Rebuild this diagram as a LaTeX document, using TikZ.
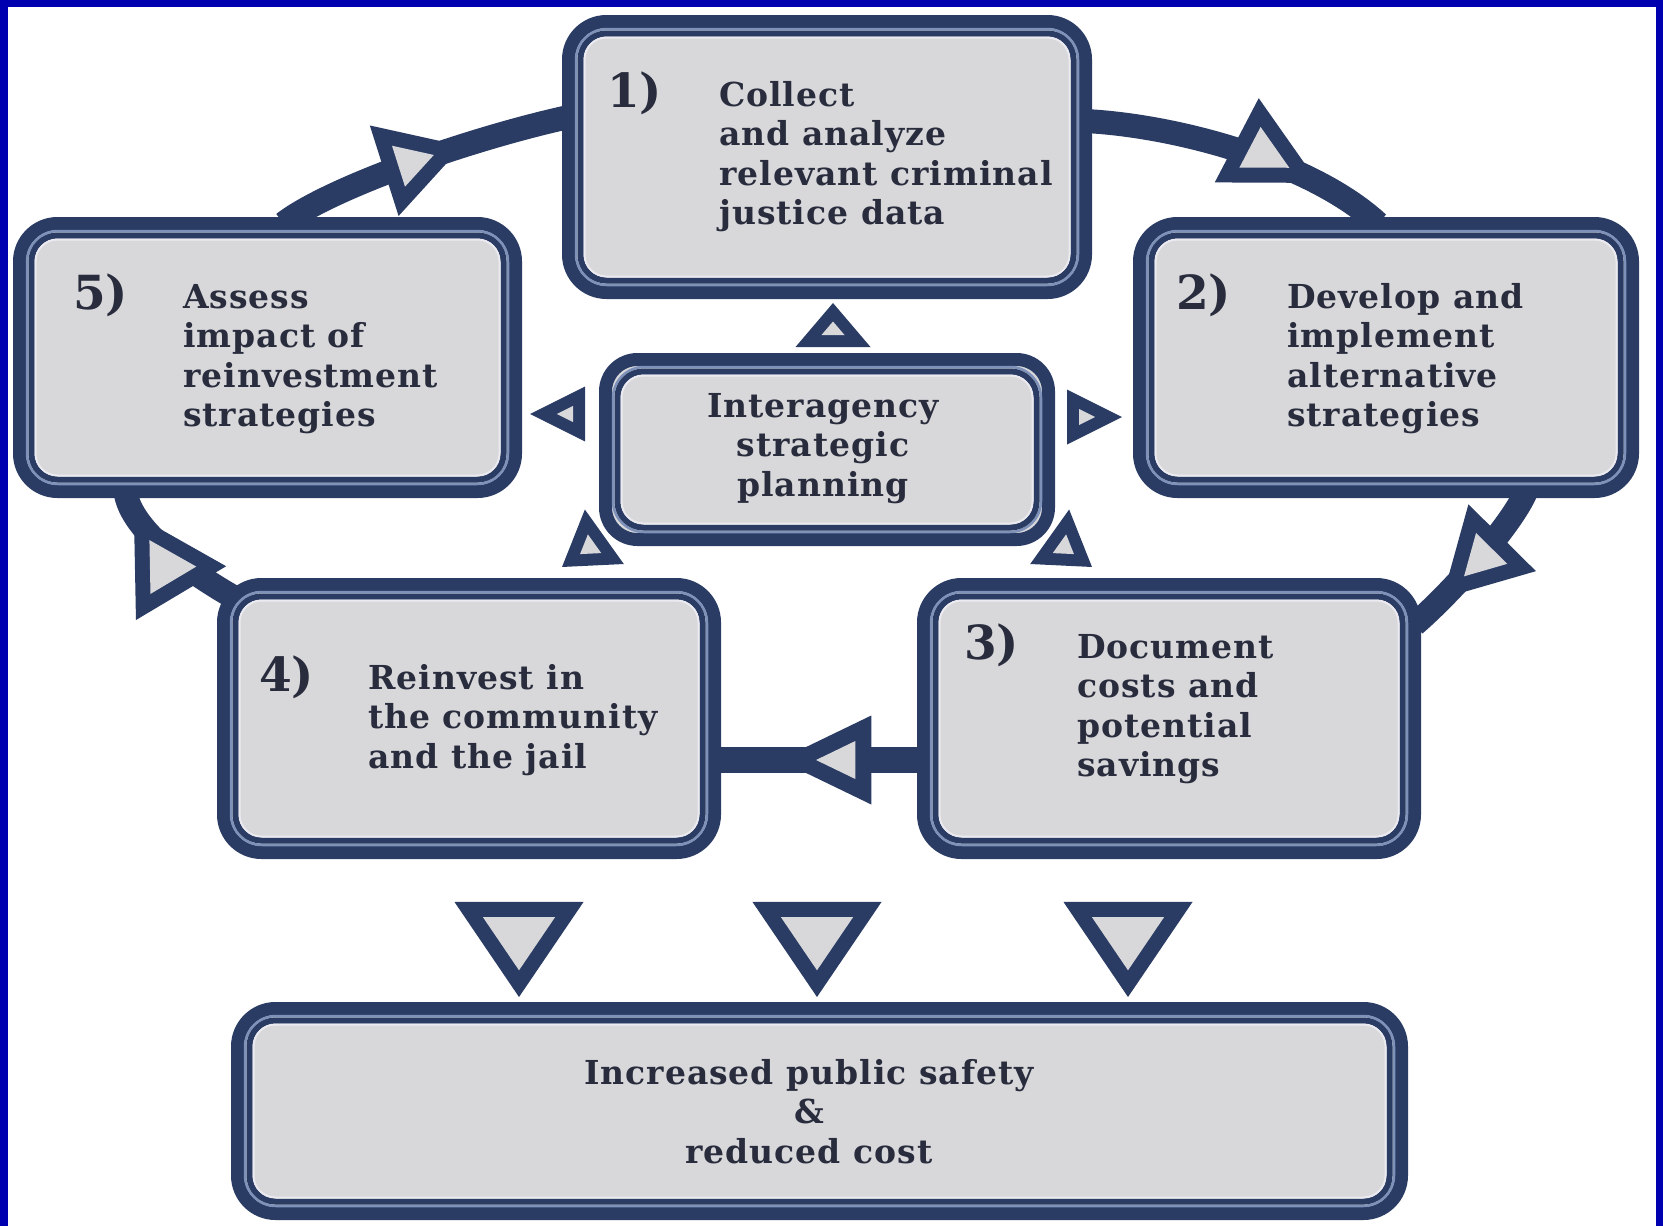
\documentclass[tikz,border=0pt]{standalone}
\usepackage{fontspec}
\setmainfont{DejaVu Serif}
\usetikzlibrary{decorations.markings,calc}
\definecolor{navy}{RGB}{42,60,100}
\definecolor{boxgray}{RGB}{216,216,219}
\definecolor{lightline}{RGB}{125,145,185}
\definecolor{innerline}{RGB}{234,234,240}
\definecolor{txt}{RGB}{40,44,60}
\definecolor{frameblue}{RGB}{0,0,176}
\pgfdeclarelayer{bg}
\pgfsetlayers{bg,main}
% arrow head: length, width, outline thickness
\newcommand\arrhead[3]{%
  \pgfmathsetmacro\ahw{#2/2}%
  \pgfmathsetmacro\ahs{sin(atan(\ahw/#1))}%
  \pgfmathsetmacro\ahti{-#3/\ahs}%
  \pgfmathsetmacro\ahbi{-#1+#3}%
  \pgfmathsetmacro\ahhi{(\ahti-\ahbi)*\ahw/#1}%
  \fill[navy] (0,0) -- (-#1,\ahw) -- (-#1,-\ahw) -- cycle;
  \fill[boxgray] (\ahti,0) -- (\ahbi,\ahhi) -- (\ahbi,-\ahhi) -- cycle;}
\newcommand\innerlines[1]{%
  \draw[lightline, line width=2.5pt, rounded corners=31pt] ($(#1.north west)+(7.5,7.5)$) rectangle ($(#1.south east)+(-7.5,-7.5)$);
  \draw[navy, line width=6pt, rounded corners=26pt] ($(#1.north west)+(12,12)$) rectangle ($(#1.south east)+(-12,-12)$);
  \draw[innerline, line width=2pt, rounded corners=22pt] ($(#1.north west)+(16,16)$) rectangle ($(#1.south east)+(-16,-16)$);}
\newfontfamily\bodyfont[LetterSpace=3]{DejaVu Serif}
\tikzset{
  box/.style={draw=navy, line width=13pt, fill=boxgray, rounded corners=38pt,
    inner sep=0pt, outer sep=0pt},
  conn/.style={draw=navy, line width=24pt},
  hd/.style n args={4}{postaction={decorate, decoration={markings,
    mark=at position #1 with {\arrhead{#2}{#3}{#4}}}}},
  tx/.style={font=\bodyfont\fontsize{33}{39.5}\selectfont\bfseries, text=txt, align=left,
    inner sep=0pt, anchor=base west},
  txc/.style={font=\bodyfont\fontsize{33}{39.5}\selectfont\bfseries, text=txt, align=center,
    inner sep=0pt, anchor=base},
  num/.style={font=\fontsize{47}{47}\selectfont\bfseries, text=txt,
    inner sep=0pt, anchor=base west},
}
\begin{document}
\begin{tikzpicture}[x=1pt, y=-1pt]
\useasboundingbox (0,0) rectangle (1663,1226);
\begin{pgfonlayer}{bg}
\fill[white] (0,0) rectangle (1663,1226);
\end{pgfonlayer}

% boxes
\node[box, minimum width=517pt, minimum height=271pt] (b1) at (827,157) {};
\node[box, minimum width=493pt, minimum height=268pt] (b2) at (1386,357.5) {};
\node[box, minimum width=496pt, minimum height=268pt] (b5) at (267.5,357.5) {};
\node[box, minimum width=443pt, minimum height=180pt, rounded corners=32pt] (cb) at (827,449.5) {};
\node[box, minimum width=491pt, minimum height=268pt] (b4) at (469,718.5) {};
\node[box, minimum width=491pt, minimum height=268pt] (b3) at (1169,718.5) {};
\node[box, minimum width=1164pt, minimum height=205pt] (bot) at (819.5,1111) {};
\foreach \n in {b1,b2,b5,cb,b4,b3,bot} {\innerlines{\n}}

% connectors
\begin{pgfonlayer}{bg}
\draw[conn, hd={0.64}{82}{95}{15}] ($(b5.north)+(16,0)$) .. controls +(45,-35) and +(-100,22) .. ($(b1.west)+(0,-40)$);
\draw[conn, hd={0.77}{92}{95}{15}] ($(b1.east)+(0,-36)$) .. controls +(95,5) and +(-65,-60) .. ($(b2.north)+(-8,0)$);
\draw[conn, hd={0.78}{85}{95}{15}] ($(b2.south)+(140,0)$) .. controls +(-15,35) and +(35,-30) .. ($(b3.north east)+(0,40)$);
\draw[conn, line width=26pt, hd={0.69}{92}{89}{16}] ($(b3.west)+(0,41.5)$) -- ($(b4.east)+(0,41.5)$);
\draw[conn, hd={0.85}{92}{105}{15}] ($(b4.north west)+(16,16)$) .. controls +(-45,-25) and +(5,40) .. ($(b5.south west)+(106,0)$);
% from the planning box
\path[hd={0.9999}{44}{75}{12}] ($(cb.north)+(6,0)$) -- ($(b1.south)+(6,10.5)$);
\path[hd={0.9999}{55}{55}{12}] ($(cb.west)+(0,-35.5)$) -- ++(-75.5,0);
\path[hd={0.9999}{55}{55}{12}] ($(cb.east)+(0,-32.5)$) -- ++(73.5,0);
\path[hd={0.9999}{52}{67}{12}] ($(cb.south west)+(9.4,-10.3)$) -- ($(b4.north)+(93,-17.5)$);
\path[hd={0.9999}{52}{67}{12}] ($(cb.south east)+(-9.4,-10.3)$) -- ($(b3.north)+(-77,-17.5)$);
% to the result box
\coordinate (d1) at (519,902);
\coordinate (d2) at (817,902);
\coordinate (d3) at (1128,902);
\foreach \d in {d1,d2,d3} {\path[hd={0.9999}{95}{129}{15}] (\d) -- ($(\d |- bot.north)+(0,-11.5)$);}
\end{pgfonlayer}

% frame
\fill[frameblue] (0,0) rectangle (8,1226);
\fill[frameblue] (0,0) rectangle (1663,7);
\fill[frameblue] (1656,0) rectangle (1663,1226);

% texts (anchored at the baseline of the last line)
\node[num] (n1) at (607,107) {1)};
\node[tx] (t1) at (719,224.5) {Collect\\and analyze\\relevant criminal\\justice data};
\node[num] (n2) at (1176,309) {2)};
\node[tx] (t2) at (1287,426.5) {Develop and\\implement\\alternative\\strategies};
\node[num] (n5) at (73,309) {5)};
\node[tx] (t5) at (183,426.5) {Assess\\impact of\\reinvestment\\strategies};
\node[txc] (tc) at (823,496) {Interagency\\strategic\\planning};
\node[num] (n4) at (259,691) {4)};
\node[tx] (t4) at (368,768) {Reinvest in\\the community\\and the jail};
\node[num] (n3) at (964,659) {3)};
\node[tx] (t3) at (1077,776.5) {Document\\costs and\\potential\\savings};
\node[txc] (tb) at (809,1163) {Increased public safety\\\&\\reduced cost};
\end{tikzpicture}
\end{document}
